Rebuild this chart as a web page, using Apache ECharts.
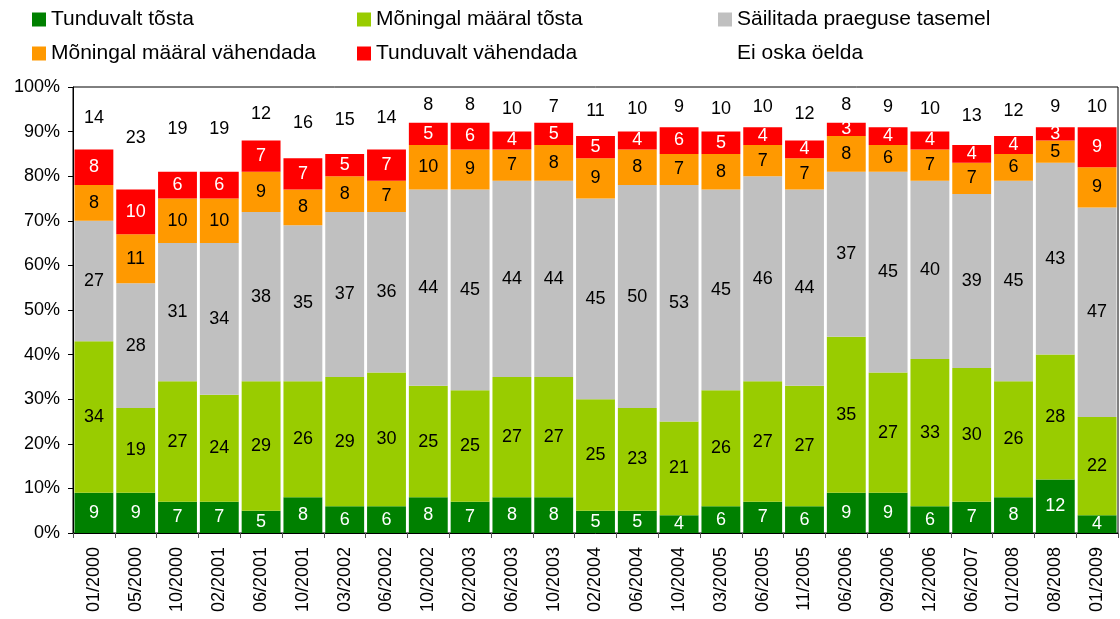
<!DOCTYPE html>
<html>
<head>
<meta charset="utf-8">
<script src="https://cdn.jsdelivr.net/npm/echarts@6/dist/echarts.min.js"></script>
<style>
  html, body { margin: 0; padding: 0; background: #fff; }
  #chart { width: 1120px; height: 619px; }
</style>
</head>
<body>
<div id="chart"></div>
<script>
// survey waves
var categories = ['01/2000', '05/2000', '10/2000', '02/2001', '06/2001', '10/2001', '03/2002', '06/2002',
    '10/2002', '02/2003', '06/2003', '10/2003', '02/2004', '06/2004', '10/2004', '03/2005', '06/2005',
    '11/2005', '06/2006', '09/2006', '12/2006', '06/2007', '01/2008', '08/2008', '01/2009'];

var tunduvaltTosta   = [9, 9, 7, 7, 5, 8, 6, 6, 8, 7, 8, 8, 5, 5, 4, 6, 7, 6, 9, 9, 6, 7, 8, 12, 4];
var moningalTosta    = [34, 19, 27, 24, 29, 26, 29, 30, 25, 25, 27, 27, 25, 23, 21, 26, 27, 27, 35, 27, 33, 30, 26, 28, 22];
var sailitada        = [27, 28, 31, 34, 38, 35, 37, 36, 44, 45, 44, 44, 45, 50, 53, 45, 46, 44, 37, 45, 40, 39, 45, 43, 47];
var moningalVahenda  = [8, 11, 10, 10, 9, 8, 8, 7, 10, 9, 7, 8, 9, 8, 7, 8, 7, 7, 8, 6, 7, 7, 6, 5, 9];
var tunduvaltVahenda = [8, 10, 6, 6, 7, 7, 5, 7, 5, 6, 4, 5, 5, 4, 6, 5, 4, 4, 3, 4, 4, 4, 4, 3, 9];
var eiOska           = [14, 23, 19, 19, 12, 16, 15, 14, 8, 8, 10, 7, 11, 10, 9, 10, 10, 12, 8, 9, 10, 13, 12, 9, 10];

var yTicks = [0, 10, 20, 30, 40, 50, 60, 70, 80, 90, 100];

var FONT = 'Liberation Sans, Arial, sans-serif';

function makeSeries(name, data, color, labelColor) {
    return {
        name: name,
        type: 'bar',
        stack: 'total',
        barCategoryGap: '7%',
        data: data,
        itemStyle: { color: color },
        label: {
            show: true,
            position: 'inside',
            color: labelColor,
            fontFamily: FONT,
            fontSize: 18
        },
        emphasis: { disabled: true }
    };
}

var legendText = { fontFamily: FONT, fontSize: 21, color: '#000', lineHeight: 21 };

function makeLegend(left, names) {
    return {
        orient: 'vertical',
        left: left,
        top: 4,
        itemWidth: 14,
        itemHeight: 14,
        itemGap: 13,
        icon: 'rect',
        selectedMode: false,
        textStyle: legendText,
        data: names
    };
}

var option = {
    animation: false,
    backgroundColor: '#fff',
    legend: [
        makeLegend(27, ['Tunduvalt tõsta', 'Mõningal määral vähendada']),
        makeLegend(352, ['Mõningal määral tõsta', 'Tunduvalt vähendada']),
        makeLegend(713, ['Säilitada praeguse tasemel', 'Ei oska öelda'])
    ],
    grid: {
        left: 73,
        right: 2,
        top: 87,
        bottom: 86,
        show: true,
        borderColor: '#000',
        borderWidth: 1
    },
    xAxis: {
        type: 'category',
        data: categories,
        axisLine: { lineStyle: { color: '#000' } },
        axisTick: { show: true, length: 5, lineStyle: { color: '#555' } },
        axisLabel: {
            rotate: 90,
            margin: 14,
            interval: 0,
            fontFamily: FONT,
            fontSize: 18,
            color: '#000'
        },
        splitLine: { show: false }
    },
    yAxis: {
        type: 'value',
        min: yTicks[0],
        max: yTicks[yTicks.length - 1],
        interval: 10,
        axisLine: { show: true, lineStyle: { color: '#000' } },
        axisTick: { show: true, length: 5, lineStyle: { color: '#000' } },
        axisLabel: {
            formatter: '{value}%',
            margin: 13,
            fontFamily: FONT,
            fontSize: 18,
            color: '#000'
        },
        splitLine: { show: false }
    },
    series: [
        makeSeries('Tunduvalt tõsta', tunduvaltTosta, '#008000', '#fff'),
        makeSeries('Mõningal määral tõsta', moningalTosta, '#99CC00', '#000'),
        makeSeries('Säilitada praeguse tasemel', sailitada, '#C0C0C0', '#000'),
        makeSeries('Mõningal määral vähendada', moningalVahenda, '#FF9900', '#000'),
        makeSeries('Tunduvalt vähendada', tunduvaltVahenda, '#FF0000', '#fff'),
        makeSeries('Ei oska öelda', eiOska, 'rgba(255,255,255,0)', '#000')
    ]
};

var chart = echarts.init(document.getElementById('chart'));
chart.setOption(option);
</script>
</body>
</html>
